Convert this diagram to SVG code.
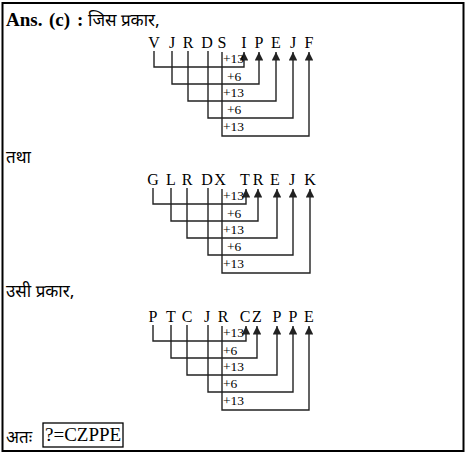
<svg xmlns="http://www.w3.org/2000/svg" width="469" height="455" viewBox="0 0 469 455">
<style>
.t{font-family:"Liberation Serif","Times New Roman",serif;fill:#000}
.ltr{font-size:16px;text-anchor:middle}
.lbl{font-size:13.5px}
.hi{font-family:"Noto Sans Devanagari","Noto Sans","Liberation Sans",sans-serif;font-size:17px;fill:#000}
.c{fill:none;stroke:#222;stroke-width:1.4}
</style>
<defs>
<marker id="ah" viewBox="0 0 10 10" refX="10" refY="5" markerUnits="userSpaceOnUse" markerWidth="12" markerHeight="8.5" orient="auto">
<path d="M0,0 L10,5 L0,10 z" fill="#222"/>
</marker>
</defs>
<rect x="2.5" y="3" width="461" height="448" fill="#fff" stroke="#000" stroke-width="2"/>

<g id="header">
<text class="t" x="6" y="26" font-size="19" font-weight="bold">Ans.</text>
<text class="t" x="49" y="26" font-size="19" font-weight="bold">(c)</text>
<text class="t" x="77" y="26" font-size="19" font-weight="bold">:</text>
<text class="hi" x="88" y="26" font-size="18.5">जिस प्रकार,</text>
</g>

<g id="diagram1">
<g id="d1-letters">
<text class="t ltr" x="154" y="48">V</text>
<text class="t ltr" x="172" y="48">J</text>
<text class="t ltr" x="188" y="48">R</text>
<text class="t ltr" x="207" y="48">D</text>
<text class="t ltr" x="222" y="48">S</text>
<text class="t ltr" x="244" y="48">I</text>
<text class="t ltr" x="259" y="48">P</text>
<text class="t ltr" x="276" y="48">E</text>
<text class="t ltr" x="293" y="48">J</text>
<text class="t ltr" x="309" y="48">F</text>
</g>
<g id="d1-connectors">
<path class="c" d="M154,51 V67 H244 V52" marker-end="url(#ah)"/>
<path class="c" d="M172,51 V84 H259 V52" marker-end="url(#ah)"/>
<path class="c" d="M188,51 V101 H276 V52" marker-end="url(#ah)"/>
<path class="c" d="M208,51 V118 H293 V52" marker-end="url(#ah)"/>
<path class="c" d="M222,52 V136 H309 V52" marker-end="url(#ah)"/>
</g>
<g id="d1-labels">
<text class="t lbl" x="223" y="63">+13</text>
<text class="t lbl" x="227" y="81">+6</text>
<text class="t lbl" x="223" y="97">+13</text>
<text class="t lbl" x="227" y="114">+6</text>
<text class="t lbl" x="223" y="131">+13</text>
</g>
</g>

<text class="hi" x="6" y="163">तथा</text>

<g id="diagram2">
<g id="d2-letters">
<text class="t ltr" x="153" y="185">G</text>
<text class="t ltr" x="171" y="185">L</text>
<text class="t ltr" x="187" y="185">R</text>
<text class="t ltr" x="207" y="185">D</text>
<text class="t ltr" x="220" y="185">X</text>
<text class="t ltr" x="245" y="185">T</text>
<text class="t ltr" x="258" y="185">R</text>
<text class="t ltr" x="275" y="185">E</text>
<text class="t ltr" x="292" y="185">J</text>
<text class="t ltr" x="310" y="185">K</text>
</g>
<g id="d2-connectors">
<path class="c" d="M153,188 V204 H246 V189" marker-end="url(#ah)"/>
<path class="c" d="M171,188 V221 H258 V189" marker-end="url(#ah)"/>
<path class="c" d="M187,188 V238 H277 V189" marker-end="url(#ah)"/>
<path class="c" d="M208,188 V255 H293 V189" marker-end="url(#ah)"/>
<path class="c" d="M222,189 V273 H310 V189" marker-end="url(#ah)"/>
</g>
<g id="d2-labels">
<text class="t lbl" x="223" y="200">+13</text>
<text class="t lbl" x="227" y="218">+6</text>
<text class="t lbl" x="223" y="234">+13</text>
<text class="t lbl" x="227" y="251">+6</text>
<text class="t lbl" x="223" y="268">+13</text>
</g>
</g>

<text class="hi" x="6" y="297">उसी प्रकार,</text>

<g id="diagram3">
<g id="d3-letters">
<text class="t ltr" x="153" y="322">P</text>
<text class="t ltr" x="171" y="322">T</text>
<text class="t ltr" x="187" y="322">C</text>
<text class="t ltr" x="207" y="322">J</text>
<text class="t ltr" x="223" y="322">R</text>
<text class="t ltr" x="245" y="322">C</text>
<text class="t ltr" x="257" y="322">Z</text>
<text class="t ltr" x="277" y="322">P</text>
<text class="t ltr" x="293" y="322">P</text>
<text class="t ltr" x="309" y="322">E</text>
</g>
<g id="d3-connectors">
<path class="c" d="M153,325 V341 H246 V326" marker-end="url(#ah)"/>
<path class="c" d="M171,325 V358 H257 V326" marker-end="url(#ah)"/>
<path class="c" d="M187,325 V375 H277 V326" marker-end="url(#ah)"/>
<path class="c" d="M208,325 V392 H293 V326" marker-end="url(#ah)"/>
<path class="c" d="M222,326 V410 H309 V326" marker-end="url(#ah)"/>
</g>
<g id="d3-labels">
<text class="t lbl" x="223" y="337">+13</text>
<text class="t lbl" x="223" y="355">+6</text>
<text class="t lbl" x="223" y="371">+13</text>
<text class="t lbl" x="223" y="388">+6</text>
<text class="t lbl" x="223" y="405">+13</text>
</g>
</g>

<g id="answer">
<text class="hi" x="6" y="443">अतः</text>
<rect x="43" y="423" width="80" height="24" fill="none" stroke="#000" stroke-width="1.3"/>
<text class="t" x="45" y="441" font-size="19">?=CZPPE</text>
</g>
</svg>
